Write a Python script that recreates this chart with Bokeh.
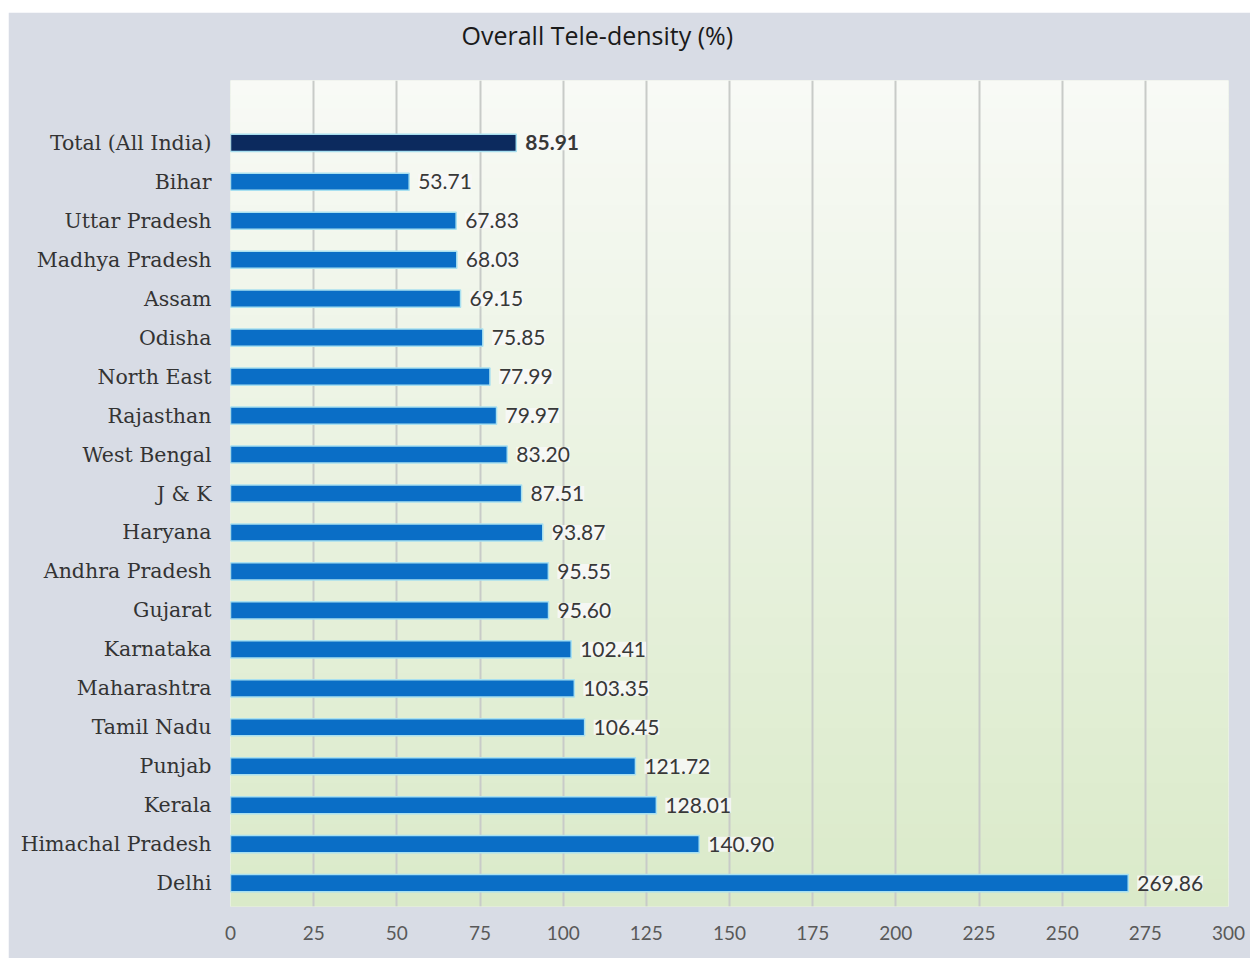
import numpy as np
from bokeh.plotting import figure
from bokeh.models import ColumnDataSource, FixedTicker, LabelSet, BoxAnnotation, Range1d, Spacer, Title
from bokeh.layouts import column, row
from bokeh.core.properties import value
from bokeh.embed import file_html
from bokeh.resources import INLINE

# ---- data ----
title_text = "Overall Tele-density (%)"
states = ["Total (All India)", "Bihar", "Uttar Pradesh", "Madhya Pradesh", "Assam",
          "Odisha", "North East", "Rajasthan", "West Bengal", "J & K", "Haryana",
          "Andhra Pradesh", "Gujarat", "Karnataka", "Maharashtra", "Tamil Nadu",
          "Punjab", "Kerala", "Himachal Pradesh", "Delhi"]
teledensity = [85.91, 53.71, 67.83, 68.03, 69.15, 75.85, 77.99, 79.97, 83.20, 87.51,
               93.87, 95.55, 95.60, 102.41, 103.35, 106.45, 121.72, 128.01, 140.90, 269.86]
x_ticks = [0, 25, 50, 75, 100, 125, 150, 175, 200, 225, 250, 275, 300]

n = len(states)
ypos = [n - 1 - i for i in range(n)]
colors = ["#0c2a5e" if s.startswith("Total") else "#0a6ec6" for s in states]
labels = ["%.2f" % v for v in teledensity]

src = ColumnDataSource(dict(y=ypos, val=teledensity, name=states, color=colors, lab=labels))
total_src = ColumnDataSource(dict(y=ypos[:1], val=teledensity[:1], lab=labels[:1]))
rest_src = ColumnDataSource(dict(y=ypos[1:], val=teledensity[1:], lab=labels[1:]))

y0, y1 = -0.6, n - 1 + 1.6

p = figure(width=1242, height=946, output_backend="svg", toolbar_location=None,
           x_range=Range1d(0, 300), y_range=Range1d(y0, y1),
           min_border_left=222, min_border_right=22, min_border_top=68, min_border_bottom=52)

p.border_fill_color = "#d8dce5"
p.background_fill_color = "#e9f1df"
p.outline_line_color = None

# gradient background (decorative)
top_c = np.array([0xf8, 0xfa, 0xf6])
bot_c = np.array([0xda, 0xea, 0xc9])
nb = 60
edges = np.linspace(y0, y1, nb + 1)
for k in range(nb):
    t = (k + 0.5) / nb
    c = bot_c + (top_c - bot_c) * t
    col = "#%02x%02x%02x" % tuple(int(round(v)) for v in c)
    p.add_layout(BoxAnnotation(bottom=edges[k] - 0.01, top=edges[k + 1] + 0.01,
                               fill_color=col, fill_alpha=1, line_color=None, level="image"))

# title: an invisible spacer title next to the frame, then the real title above it
p.add_layout(Title(text=" ", text_font_size="1px", standoff=26, text_color="#d8dce5"), "above")
p.add_layout(Title(text=title_text, text_font="Open Sans", text_font_size="25px",
                   text_font_style="normal", text_color="#1a1a1a",
                   align="left", offset=231, standoff=0), "above")

# bars
p.hbar(y="y", left=0, right="val", height=0.44, fill_color="color",
       line_color="#a8e0f0", line_width=1.5, source=src)

# value labels
common = dict(x="val", y="y", text="lab", x_offset=9, text_baseline="middle", text_align="left",
              text_font=value("Lato"), text_font_size="21px", text_color="#383838",
              background_fill_color="#f8f8f8", background_fill_alpha=0.85)
p.add_layout(LabelSet(source=rest_src, **common))
p.add_layout(LabelSet(source=total_src, text_font_style="bold", **common))

# axes
p.xaxis.ticker = FixedTicker(ticks=x_ticks)
p.xaxis.axis_line_color = None
p.xaxis.major_tick_line_color = None
p.xaxis.minor_tick_line_color = None
p.xaxis.major_tick_out = 0
p.xaxis.major_label_standoff = 19
p.xaxis.major_label_text_font = "Lato"
p.xaxis.major_label_text_font_size = "19px"
p.xaxis.major_label_text_color = "#595959"

p.yaxis.ticker = FixedTicker(ticks=ypos)
p.yaxis.major_label_overrides = {y: s for y, s in zip(ypos, states)}
p.yaxis.axis_line_color = None
p.yaxis.major_tick_line_color = None
p.yaxis.minor_tick_line_color = None
p.yaxis.major_tick_out = 0
p.yaxis.major_label_standoff = 19
p.yaxis.major_label_text_font = "DejaVu Serif"
p.yaxis.major_label_text_font_size = "20.5px"
p.yaxis.major_label_text_color = "#333333"

p.xgrid.grid_line_color = "#c8cbc8"
p.xgrid.grid_line_width = 2
p.ygrid.grid_line_color = None

layout = column(Spacer(height=12), row(Spacer(width=8), p))
open("out.html", "w").write(file_html(layout, INLINE))
